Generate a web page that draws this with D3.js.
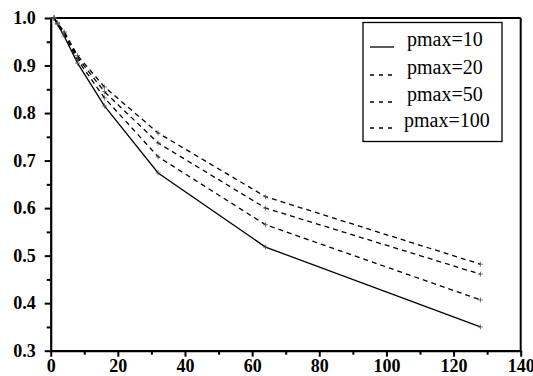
<!DOCTYPE html>
<html>
<head>
<meta charset="utf-8">
<script src="https://cdn.jsdelivr.net/npm/d3@7"></script>
<style>
  body { margin: 0; background: #fff; }
  svg { display: block; }
</style>
</head>
<body>
<script>
// data
var xs = [1, 2, 4, 8, 16, 32, 64, 128];
var labels = ["pmax=10", "pmax=20", "pmax=50", "pmax=100"];
var p10  = [1.0, 0.987, 0.962, 0.905, 0.815, 0.674, 0.518, 0.350];
var p20  = [1.0, 0.988, 0.966, 0.912, 0.832, 0.708, 0.565, 0.407];
var p50  = [1.0, 0.989, 0.969, 0.917, 0.845, 0.737, 0.600, 0.461];
var p100 = [1.0, 0.990, 0.971, 0.921, 0.855, 0.758, 0.624, 0.482];
var xTicks = [0, 20, 40, 60, 80, 100, 120, 140];
var yTicks = [0.3, 0.4, 0.5, 0.6, 0.7, 0.8, 0.9, 1.0];

var series = [p10, p20, p50, p100];
var serif = "'Liberation Serif', 'Times New Roman', serif";

var width = 533, height = 376;
var margin = { top: 18, right: 12.3, bottom: 25.3, left: 50.7 };

var svg = d3.select("body").append("svg")
    .attr("width", width)
    .attr("height", height);

var x = d3.scaleLinear().domain([0, 140]).range([margin.left, width - margin.right]);
var y = d3.scaleLinear().domain([0.3, 1.0]).range([height - margin.bottom, margin.top]);

// frame on top and right
svg.append("line")
    .attr("x1", x(0)).attr("x2", x(140))
    .attr("y1", y(1)).attr("y2", y(1))
    .attr("stroke", "#000").attr("stroke-width", 2);
svg.append("line")
    .attr("x1", x(140)).attr("x2", x(140))
    .attr("y1", y(1)).attr("y2", y(0.3))
    .attr("stroke", "#000").attr("stroke-width", 2);

// minor ticks
svg.append("g")
    .attr("transform", "translate(0," + y(0.3) + ")")
    .call(d3.axisBottom(x).tickValues(d3.range(10, 140, 20)).tickSize(4).tickFormat(""))
    .call(function (g) { g.select(".domain").remove(); })
    .selectAll("line").attr("stroke-width", 2);
svg.append("g")
    .attr("transform", "translate(" + x(0) + ",0)")
    .call(d3.axisLeft(y).tickValues([0.35, 0.45, 0.55, 0.65, 0.75, 0.85, 0.95]).tickSize(4).tickFormat(""))
    .call(function (g) { g.select(".domain").remove(); })
    .selectAll("line").attr("stroke-width", 2);

// main axes
var xAxis = svg.append("g")
    .attr("transform", "translate(0," + y(0.3) + ")")
    .call(d3.axisBottom(x).tickValues(xTicks).tickSize(6).tickSizeOuter(0).tickPadding(3).tickFormat(d3.format("d")));
var yAxis = svg.append("g")
    .attr("transform", "translate(" + x(0) + ",0)")
    .call(d3.axisLeft(y).tickValues(yTicks).tickSize(6).tickSizeOuter(0).tickPadding(9).tickFormat(d3.format(".1f")));

[xAxis, yAxis].forEach(function (g) {
    g.select(".domain").attr("stroke-width", 2.2);
    g.selectAll(".tick line").attr("stroke-width", 2);
    g.selectAll("text")
        .attr("fill", "#000")
        .style("font-family", serif)
        .style("font-weight", "bold")
        .style("font-size", "18px");
});

// lines
var line = d3.line()
    .x(function (d, i) { return x(xs[i]); })
    .y(function (d) { return y(d); });

series.forEach(function (s, k) {
    svg.append("path")
        .datum(s)
        .attr("d", line)
        .attr("fill", "none")
        .attr("stroke", "#000")
        .attr("stroke-width", 1.3)
        .attr("stroke-dasharray", k == 0 ? null : "5,4");

    // + markers
    svg.append("g").selectAll("path")
        .data(s)
        .enter().append("path")
        .attr("transform", function (d, i) { return "translate(" + x(xs[i]) + "," + y(d) + ")"; })
        .attr("fill", "none")
        .attr("stroke", "#555")
        .attr("stroke-width", 0.8)
        .attr("d", "M-2.5,0H2.5M0,-2.5V2.5");
});

// legend
var legend = svg.append("g");
legend.append("rect")
    .attr("x", 363).attr("y", 22.5)
    .attr("width", 139).attr("height", 119)
    .attr("fill", "#fff")
    .attr("stroke", "#000")
    .attr("stroke-width", 1.3);

var rowY = [47, 75, 102, 128];
labels.forEach(function (name, k) {
    legend.append("line")
        .attr("x1", 370).attr("x2", 394)
        .attr("y1", rowY[k]).attr("y2", rowY[k])
        .attr("stroke", "#000")
        .attr("stroke-width", 1.3)
        .attr("stroke-dasharray", k == 0 ? null : "4,5");
    legend.append("text")
        .attr("x", k == 3 ? 404 : 407)
        .attr("y", rowY[k] - 1)
        .style("font-family", serif)
        .style("font-size", "20px")
        .text(name);
});
</script>
</body>
</html>
